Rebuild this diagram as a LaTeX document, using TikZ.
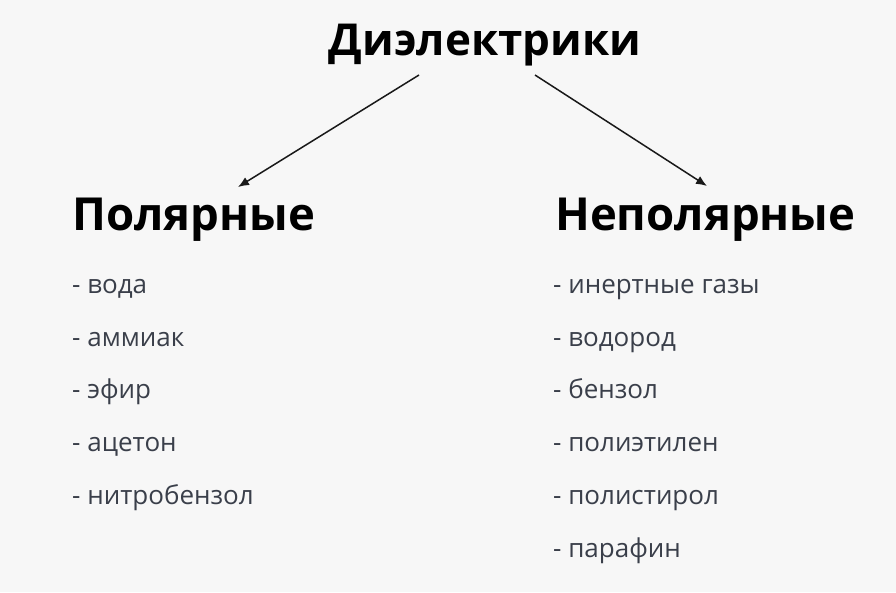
\documentclass[tikz,border=0pt]{standalone}
\usepackage{fontspec}
\setmainfont{Open Sans}
\usetikzlibrary{arrows.meta}
\begin{document}
\begin{tikzpicture}[x=1pt,y=-1pt,
  titletext/.style={font=\bfseries\fontsize{44}{50}\selectfont, text=black, inner sep=0pt, anchor=base},
  headtext/.style={font=\bfseries\fontsize{45.5}{52}\selectfont, text=black, inner sep=0pt, anchor=base west},
  itemtext/.style={font=\fontsize{26}{30}\selectfont, text=itemcol, inner sep=0pt, anchor=base west},
  arr/.style={-{Latex[length=11pt,width=9pt]}, line width=1.5pt, draw=black!90}]
\definecolor{itemcol}{HTML}{3A3F4A}
\fill[black!3] (0,0) rectangle (896,592);
\useasboundingbox (0,0) rectangle (896,592);
\node[titletext] (t) at (485,55) {Диэлектрики};
\node[headtext] (p) at (72,230) {Полярные};
\node[headtext] (n) at (555,230) {Неполярные};
\coordinate (a1s) at (419,75);
\coordinate (a1e) at (238,187);
\coordinate (a2s) at (535,75);
\coordinate (a2e) at (707,186);
\draw[arr] (a1s) -- (a1e);
\draw[arr] (a2s) -- (a2e);
\node[itemtext] (l1) at (72,293) {- вода};
\node[itemtext] (l2) at (72,346) {- аммиак};
\node[itemtext] (l3) at (72,398) {- эфир};
\node[itemtext] (l4) at (72,451) {- ацетон};
\node[itemtext] (l5) at (72,504) {- нитробензол};
\node[itemtext] (r1) at (553,293) {- инертные газы};
\node[itemtext] (r2) at (553,346) {- водород};
\node[itemtext] (r3) at (553,398) {- бензол};
\node[itemtext] (r4) at (553,451) {- полиэтилен};
\node[itemtext] (r5) at (553,504) {- полистирол};
\node[itemtext] (r6) at (553,557) {- парафин};
\end{tikzpicture}
\end{document}
